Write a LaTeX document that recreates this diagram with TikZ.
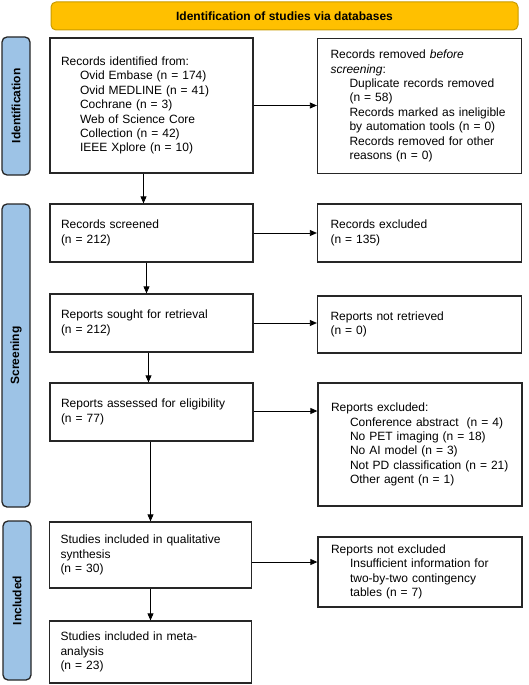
\documentclass[tikz,border=0pt]{standalone}
\usepackage{fontspec}
\setmainfont{Liberation Sans}
\usetikzlibrary{arrows.meta}
\definecolor{hdrfill}{HTML}{FFC000}
\definecolor{hdrline}{HTML}{C89B00}
\definecolor{barfill}{HTML}{9DC3E6}
\definecolor{boxline}{HTML}{262626}
\begin{document}
\begin{tikzpicture}[x=1pt,y=-1pt,
  txt/.style={font=\fontsize{12}{14.4}\selectfont},
  flowbox/.style={txt, draw=boxline, line width=1.3pt, fill=white, align=left,
    inner xsep=11pt, inner ysep=0pt, anchor=center},
  sidebar/.style={draw=boxline, line width=1.3pt, fill=barfill, rounded corners=5pt,
    anchor=center, inner sep=0pt},
  barlabel/.style={font=\fontsize{12}{14}\selectfont\bfseries, rotate=90, anchor=center},
  flowarrow/.style={draw=black, line width=0.8pt, -{Triangle[length=7pt,width=6pt]}},
  ind/.style={}
]
\useasboundingbox (0,0) rectangle (528,685);
\newcommand{\sub}{\hspace*{19pt}}

% header
\node[draw=hdrline, line width=1pt, fill=hdrfill, rounded corners=5pt,
  minimum width=467pt, minimum height=28pt, inner sep=0pt,
  font=\fontsize{12}{14}\selectfont\bfseries] (hdr) at (284.5,16)
  {Identification of studies via databases};

% side bars
\node[sidebar, minimum width=28pt, minimum height=138pt] (bar1) at (16,106) {};
\node[barlabel] (lab1) at (bar1.center) {Identification};
\node[sidebar, minimum width=28pt, minimum height=303pt] (bar2) at (16,355.5) {};
\node[barlabel] (lab2) at (bar2.center) {Screening};
\node[sidebar, minimum width=28pt, minimum height=159pt] (bar3) at (17,600.5) {};
\node[barlabel] (lab3) at (bar3.center) {Included};

% left column
\node[flowbox, text width=181pt, minimum height=135pt] (ident) at (151.5,105.5)
  {Records identified from:\\
   \sub Ovid Embase (n = 174)\\
   \sub Ovid MEDLINE (n = 41)\\
   \sub Cochrane (n = 3)\\
   \sub Web of Science Core\\
   \sub Collection (n = 42)\\
   \sub IEEE Xplore (n = 10)};
\node[flowbox, text width=181pt, minimum height=58pt] (screen) at (151.5,233)
  {Records screened\\(n = 212)};
\node[flowbox, text width=181pt, minimum height=58pt] (sought) at (151.5,323)
  {Reports sought for retrieval\\(n = 212)};
\node[flowbox, text width=181pt, minimum height=58pt] (assess) at (151.5,412)
  {Reports assessed for eligibility\\(n = 77)};
\node[flowbox, text width=180pt, minimum height=66pt] (qual) at (150.5,555)
  {Studies included in qualitative\\synthesis\\(n = 30)};
\node[flowbox, text width=180pt, minimum height=62pt] (meta) at (150.5,652)
  {Studies included in meta-\\analysis\\(n = 23)};

% right column
\node[flowbox, text width=178pt, inner xsep=13pt, minimum height=135pt] (removed) at (419.5,106)
  {Records removed \textit{before}\\
   \textit{screening}:\\
   \sub Duplicate records removed\\
   \sub (n = 58)\\
   \sub Records marked as ineligible\\
   \sub by automation tools (n = 0)\\
   \sub Records removed for other\\
   \sub reasons (n = 0)};
\node[flowbox, text width=178pt, inner xsep=13pt, minimum height=58pt] (excl1) at (419.5,233)
  {Records excluded\\(n = 135)};
\node[flowbox, text width=178pt, inner xsep=13pt, minimum height=57pt] (notret) at (419.5,324.5)
  {Reports not retrieved\\(n = 0)};
\node[flowbox, text width=178pt, inner xsep=13pt, minimum height=123pt] (excl2) at (420,444.5)
  {Reports excluded:\\
   \sub Conference abstract\ \ (n = 4)\\
   \sub No PET imaging (n = 18)\\
   \sub No AI model (n = 3)\\
   \sub Not PD classification (n = 21)\\
   \sub Other agent (n = 1)};
\node[flowbox, text width=178pt, inner xsep=13pt, minimum height=70pt] (notexcl) at (420,572)
  {Reports not excluded\\
   \sub Insufficient information for\\
   \sub two-by-two contingency\\
   \sub tables (n = 7)};

% horizontal arrows
\draw[flowarrow] (ident.east) -- (ident.east -| removed.west);
\draw[flowarrow] (screen.east) -- (screen.east -| excl1.west);
\draw[flowarrow] (sought.east) -- (sought.east -| notret.west);
\draw[flowarrow] ([yshift=1pt]assess.east) -- ([yshift=1pt]assess.east -| excl2.west);
\draw[flowarrow] ([yshift=-7pt]qual.east) -- ([yshift=-7pt]qual.east -| notexcl.west);

% vertical arrows
\draw[flowarrow] ([xshift=-8pt]ident.south) -- ([xshift=-8pt]ident.south |- screen.north);
\draw[flowarrow] ([xshift=-5pt]screen.south) -- ([xshift=-5pt]screen.south |- sought.north);
\draw[flowarrow] ([xshift=-3pt]sought.south) -- ([xshift=-3pt]sought.south |- assess.north);
\draw[flowarrow] ([xshift=-1pt]assess.south) -- ([xshift=-1pt]assess.south |- qual.north);
\draw[flowarrow] (qual.south) -- (qual.south |- meta.north);
\end{tikzpicture}
\end{document}
